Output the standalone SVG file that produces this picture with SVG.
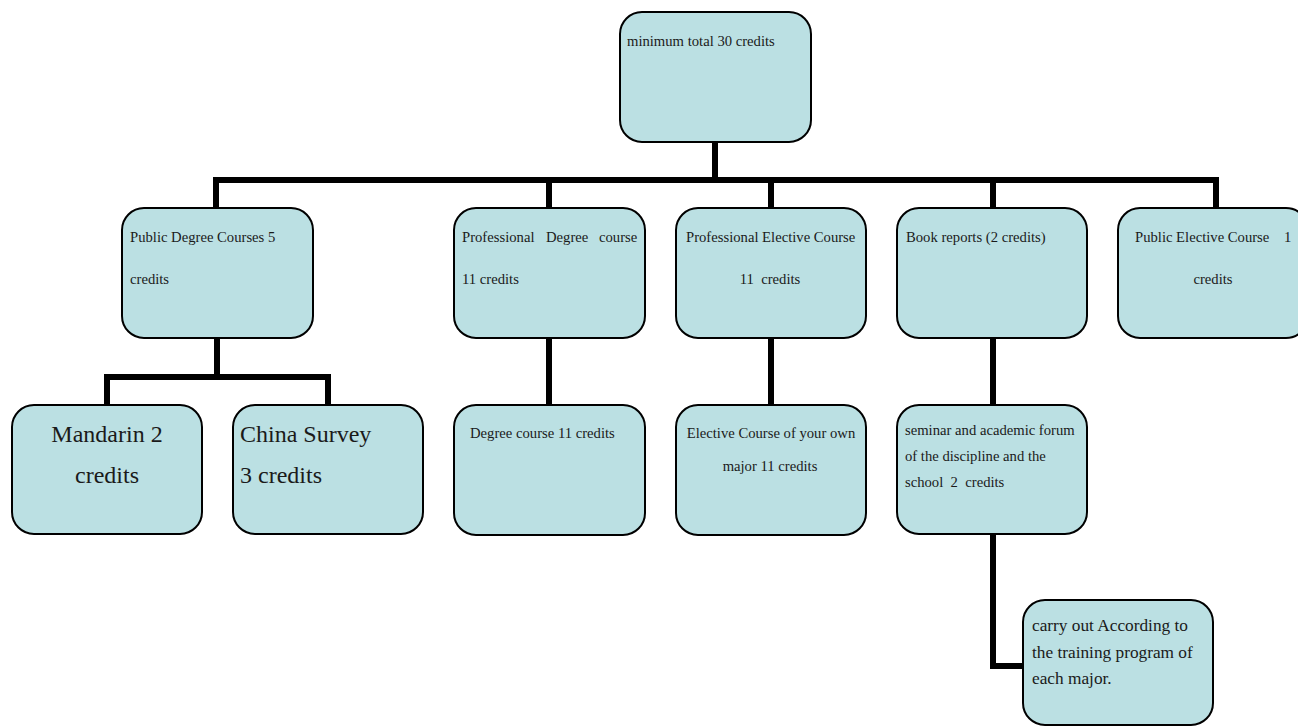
<svg xmlns="http://www.w3.org/2000/svg" width="1298" height="727" viewBox="0 0 1298 727">
<style>
.box{fill:#bbe0e3;stroke:#000;stroke-width:2}
.t{font-family:"Liberation Serif","Times New Roman",serif;font-size:14.67px;fill:#1a1a1a}
.big{font-size:24px}
.mid{font-size:17.3px}
.c{text-anchor:middle}
.conn{fill:none;stroke:#000;stroke-width:6;stroke-linejoin:miter}
</style>
<rect width="1298" height="727" fill="#fff"/>
<g id="connectors">
<path class="conn" d="M715,142 V180 M216,208 V180 H1216 V208 M549,180 V208 M771,180 V208 M993,180 V208"/>
<path class="conn" d="M217,338 V377 M107,405 V377 H328 V405"/>
<path class="conn" d="M549,338 V405"/>
<path class="conn" d="M771,338 V405"/>
<path class="conn" d="M993,338 V405"/>
<path class="conn" d="M993,534 V666 H1023"/>
</g>
<g id="n-total">
<rect class="box" x="620" y="12" width="191" height="130" rx="22"/>
<text class="t" x="627" y="46">minimum total 30 credits</text>
</g>
<g id="n-public-degree">
<rect class="box" x="122" y="208" width="191" height="130" rx="22"/>
<text class="t" x="130" y="242">Public Degree Courses 5</text>
<text class="t" x="130" y="284">credits</text>
</g>
<g id="n-prof-degree">
<rect class="box" x="454" y="208" width="191" height="130" rx="22"/>
<text class="t" y="242"><tspan x="462">Professional</tspan> <tspan x="546">Degree</tspan> <tspan x="599">course</tspan></text>
<text class="t" x="462" y="284">11 credits</text>
</g>
<g id="n-prof-elective">
<rect class="box" x="676" y="208" width="190" height="130" rx="22"/>
<text class="t" x="686" y="242">Professional Elective Course</text>
<text class="t c" x="770" y="284" xml:space="preserve">11  credits</text>
</g>
<g id="n-book">
<rect class="box" x="897" y="208" width="190" height="130" rx="22"/>
<text class="t" x="906" y="242">Book reports (2 credits)</text>
</g>
<g id="n-public-elective">
<rect class="box" x="1118" y="208" width="190" height="130" rx="22"/>
<text class="t" y="242"><tspan x="1135">Public Elective Course</tspan> <tspan x="1284">1</tspan></text>
<text class="t c" x="1213" y="284">credits</text>
</g>
<g id="n-mandarin">
<rect class="box" x="12" y="405" width="190" height="129" rx="22"/>
<text class="t big c" x="107" y="442">Mandarin 2</text>
<text class="t big c" x="107" y="483">credits</text>
</g>
<g id="n-china">
<rect class="box" x="233" y="405" width="190" height="129" rx="22"/>
<text class="t big" x="240" y="442">China Survey</text>
<text class="t big" x="240" y="483">3 credits</text>
</g>
<g id="n-degree-course">
<rect class="box" x="454" y="405" width="191" height="130" rx="22"/>
<text class="t" x="470" y="438">Degree course 11 credits</text>
</g>
<g id="n-elective-own">
<rect class="box" x="676" y="405" width="190" height="130" rx="22"/>
<text class="t c" x="771" y="438">Elective Course of your own</text>
<text class="t c" x="770" y="471">major 11 credits</text>
</g>
<g id="n-seminar">
<rect class="box" x="897" y="405" width="190" height="129" rx="22"/>
<text class="t" x="905" y="435">seminar and academic forum</text>
<text class="t" x="905" y="461">of the discipline and the</text>
<text class="t" x="905" y="487" xml:space="preserve">school  2  credits</text>
</g>
<g id="n-carry">
<rect class="box" x="1023" y="600" width="190" height="125" rx="22"/>
<text class="t mid" x="1032" y="631">carry out According to</text>
<text class="t mid" x="1032" y="658">the training program of</text>
<text class="t mid" x="1032" y="684">each major.</text>
</g>
</svg>
